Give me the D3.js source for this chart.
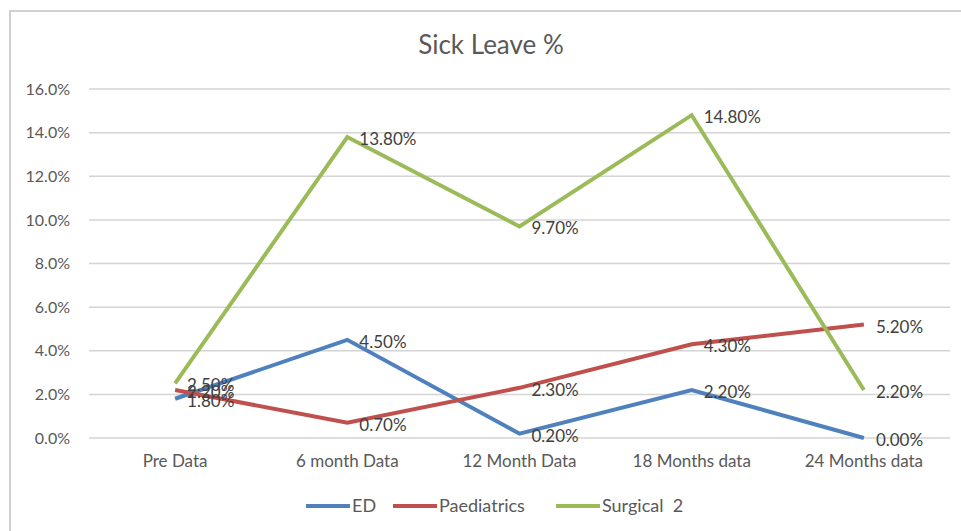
<!DOCTYPE html>
<html>
<head>
<meta charset="utf-8">
<script src="https://cdn.jsdelivr.net/npm/d3@7"></script>
<style>
  body { margin: 0; background: #fff; }
  svg { display: block; font-family: Lato, "Open Sans", sans-serif; }
</style>
</head>
<body>
<div id="chart_area"></div>
<script>
var width = 961, height = 531;

// chart data
var categories = ["Pre Data", "6 month Data", "12 Month Data", "18 Months data", "24 Months data"];
var seriesNames = ["ED", "Paediatrics", "Surgical  2"];
var edValues = [1.8, 4.5, 0.2, 2.2, 0.0];
var paedValues = [2.2, 0.7, 2.3, 4.3, 5.2];
var surgValues = [2.5, 13.8, 9.7, 14.8, 2.2];
var yTicks = [0, 2, 4, 6, 8, 10, 12, 14, 16];
var colors = ["#4f81bd", "#c0504d", "#9bbb59"];

var series = [
    { name: seriesNames[0], values: edValues, color: colors[0] },
    { name: seriesNames[1], values: paedValues, color: colors[1] },
    { name: seriesNames[2], values: surgValues, color: colors[2] }
];

var svg = d3.select("#chart_area").append("svg")
    .attr("width", width)
    .attr("height", height);

// outer chart border
svg.append("rect")
    .attr("x", 10)
    .attr("y", 11)
    .attr("width", width)
    .attr("height", height)
    .attr("fill", "#fff")
    .attr("stroke", "#d0d0d0")
    .attr("stroke-width", 2);

// title
svg.append("text")
    .attr("x", 491)
    .attr("y", 54)
    .attr("text-anchor", "middle")
    .attr("font-size", 26)
    .attr("fill", "#595959")
    .text("Sick Leave %");

var x = d3.scaleBand()
    .domain(categories)
    .range([89, 950]);

var y = d3.scaleLinear()
    .domain([0, 16])
    .range([438, 89]);

// gridlines
svg.append("g")
    .selectAll("line")
    .data(yTicks)
    .enter().append("line")
    .attr("x1", 89)
    .attr("x2", 950)
    .attr("y1", function (d) { return y(d); })
    .attr("y2", function (d) { return y(d); })
    .attr("stroke", "#d4d4d4")
    .attr("stroke-width", 1.5);

// y axis labels
var yAxis = d3.axisLeft(y)
    .tickValues(yTicks)
    .tickSize(0)
    .tickPadding(0)
    .tickFormat(function (d) { return d.toFixed(1) + "%"; });

var gy = svg.append("g")
    .attr("transform", "translate(70,0)")
    .call(yAxis);
gy.select(".domain").remove();
gy.selectAll("text")
    .attr("font-family", "Lato, sans-serif")
    .attr("font-size", 16)
    .attr("fill", "#595959");

// x axis labels
var xAxis = d3.axisBottom(x).tickSize(0).tickPadding(0);
var gx = svg.append("g")
    .attr("transform", "translate(0,455)")
    .call(xAxis);
gx.select(".domain").remove();
gx.selectAll("text")
    .attr("font-family", "Lato, sans-serif")
    .attr("font-size", 17)
    .attr("fill", "#595959");

function cx(i) { return x(categories[i]) + x.bandwidth() / 2; }

var line = d3.line()
    .x(function (d, i) { return cx(i); })
    .y(function (d) { return y(d); });

// lines
svg.append("g")
    .selectAll("path")
    .data(series)
    .enter().append("path")
    .attr("d", function (d) { return line(d.values); })
    .attr("fill", "none")
    .attr("stroke", function (d) { return d.color; })
    .attr("stroke-width", 4);

// data labels
series.forEach(function (s) {
    svg.append("g")
        .selectAll("text")
        .data(s.values)
        .enter().append("text")
        .attr("x", function (d, i) { return cx(i) + 12; })
        .attr("y", function (d) { return y(d) + 8; })
        .attr("font-size", 17)
        .attr("fill", "#404040")
        .text(function (d) { return d.toFixed(2) + "%"; });
});

// legend
var legendX = [306, 393, 556];
var legend = svg.append("g")
    .selectAll("g")
    .data(series)
    .enter().append("g")
    .attr("transform", function (d, i) { return "translate(" + legendX[i] + ",506)"; });

legend.append("line")
    .attr("x1", 0)
    .attr("x2", 44)
    .attr("stroke", function (d) { return d.color; })
    .attr("stroke-width", 4);

legend.append("text")
    .attr("x", 46)
    .attr("y", 6)
    .attr("font-size", 18)
    .attr("fill", "#595959")
    .style("white-space", "pre")
    .text(function (d) { return d.name; });
</script>
</body>
</html>
